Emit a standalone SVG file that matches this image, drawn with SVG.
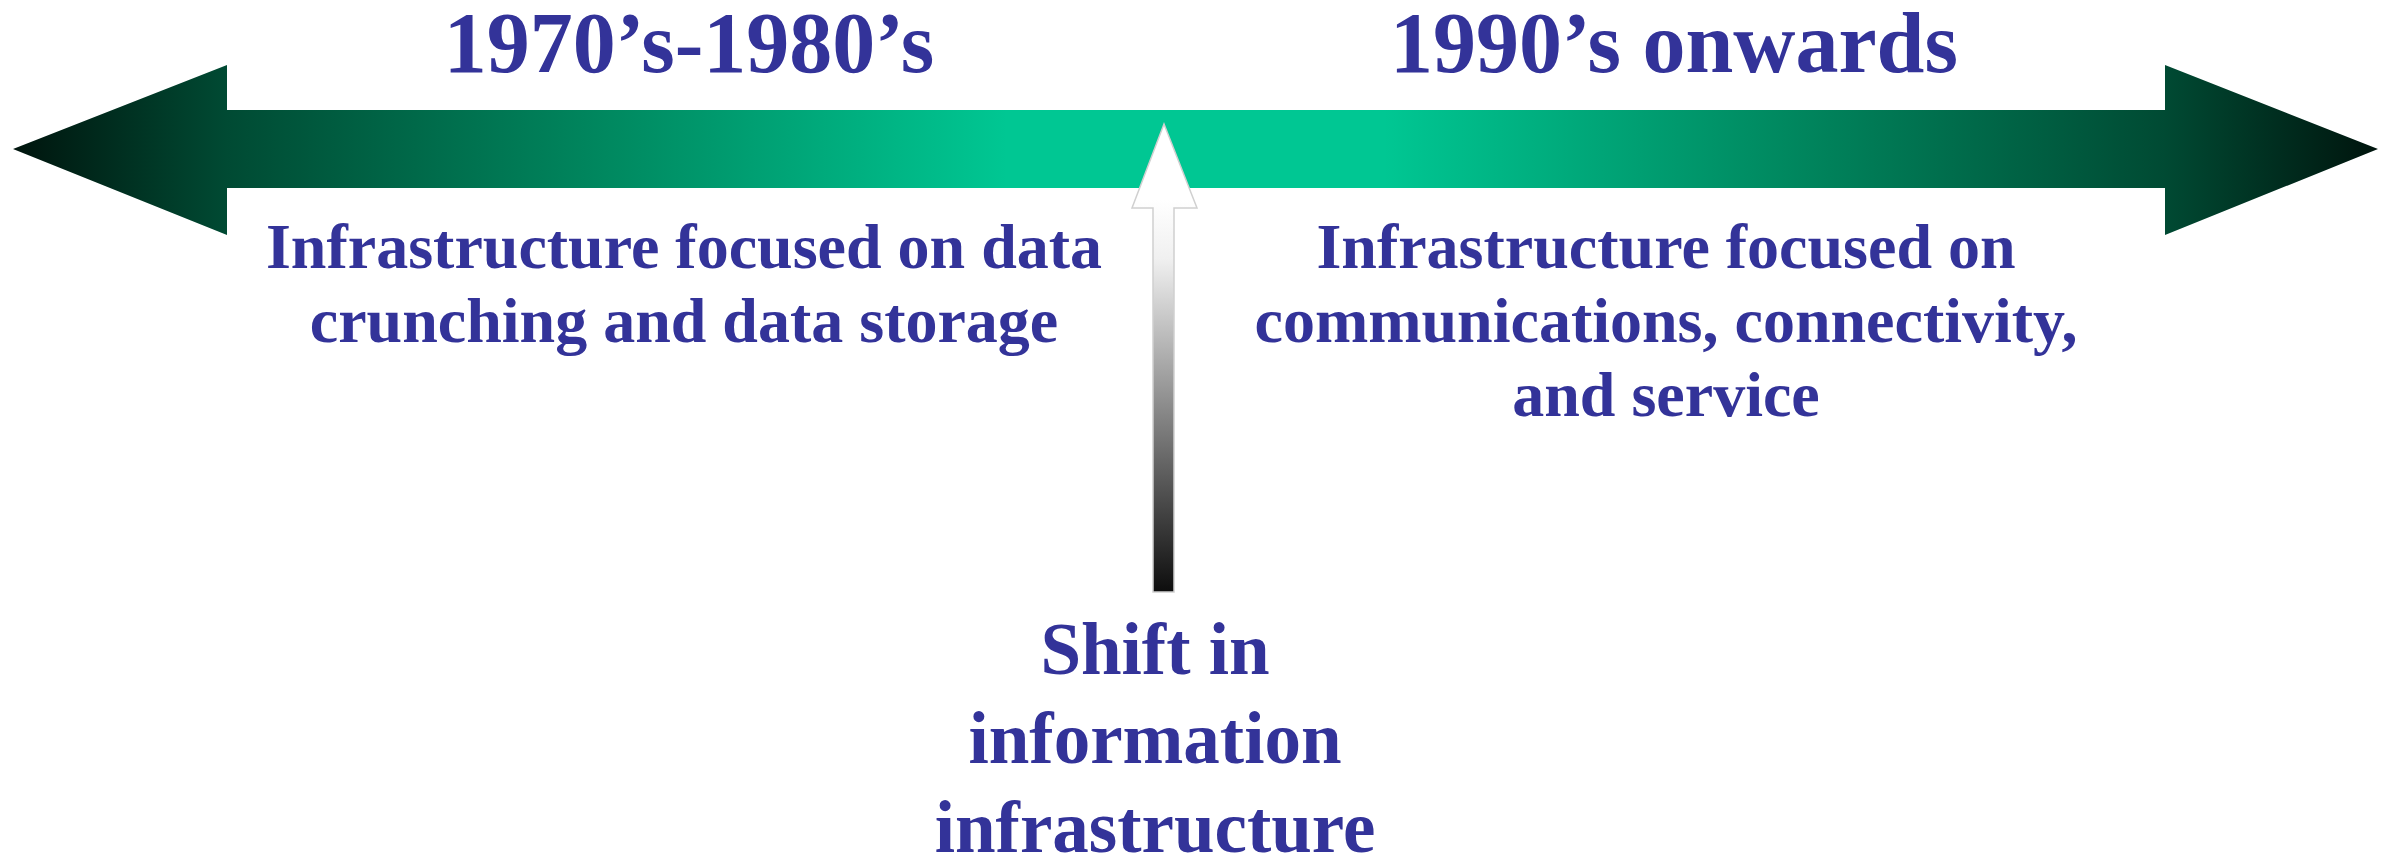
<svg xmlns="http://www.w3.org/2000/svg" width="2397" height="856" viewBox="0 0 2397 856">
<defs>
<linearGradient id="gH" gradientUnits="userSpaceOnUse" x1="13" y1="0" x2="2378" y2="0">
<stop offset="0" stop-color="#00140d"/>
<stop offset="0.09" stop-color="#004a33"/>
<stop offset="0.25" stop-color="#00885f"/>
<stop offset="0.42" stop-color="#00c793"/>
<stop offset="0.58" stop-color="#00c793"/>
<stop offset="0.75" stop-color="#00885f"/>
<stop offset="0.91" stop-color="#004a33"/>
<stop offset="1" stop-color="#00140d"/>
</linearGradient>
<linearGradient id="gV" gradientUnits="userSpaceOnUse" x1="0" y1="200" x2="0" y2="592">
<stop offset="0" stop-color="#ffffff"/>
<stop offset="0.15" stop-color="#f0f0f0"/>
<stop offset="1" stop-color="#0d0d0d"/>
</linearGradient>
<style>
text{font-family:"Liberation Serif","Times New Roman",serif;font-weight:bold;fill:#333399;text-anchor:middle}
.t{font-size:86px}
.s{font-size:64px}
.c{font-size:73px}
</style>
</defs>
<g id="timeline">
<polygon points="13,149 227,65 227,110 2165,110 2165,65 2378,149 2165,235 2165,188 227,188 227,235" fill="url(#gH)"/>
</g>
<g id="connectors">
<polygon points="1164,124 1197,208 1174,208 1174,592 1153,592 1153,208 1132,208" fill="url(#gV)" stroke="#d0d0d0" stroke-width="1.5"/>
</g>
<g id="era1">
<text class="t" x="689" y="72">1970’s-1980’s</text>
<text class="s" x="684" y="268">Infrastructure focused on data</text>
<text class="s" x="684" y="342">crunching and data storage</text>
</g>
<g id="era2">
<text class="t" x="1674" y="72">1990’s onwards</text>
<text class="s" x="1666" y="268">Infrastructure focused on</text>
<text class="s" x="1666" y="342">communications, connectivity,</text>
<text class="s" x="1666" y="416">and service</text>
</g>
<g id="shift">
<text class="c" x="1155" y="674">Shift in</text>
<text class="c" x="1155" y="763">information</text>
<text class="c" x="1155" y="852">infrastructure</text>
</g>
</svg>
